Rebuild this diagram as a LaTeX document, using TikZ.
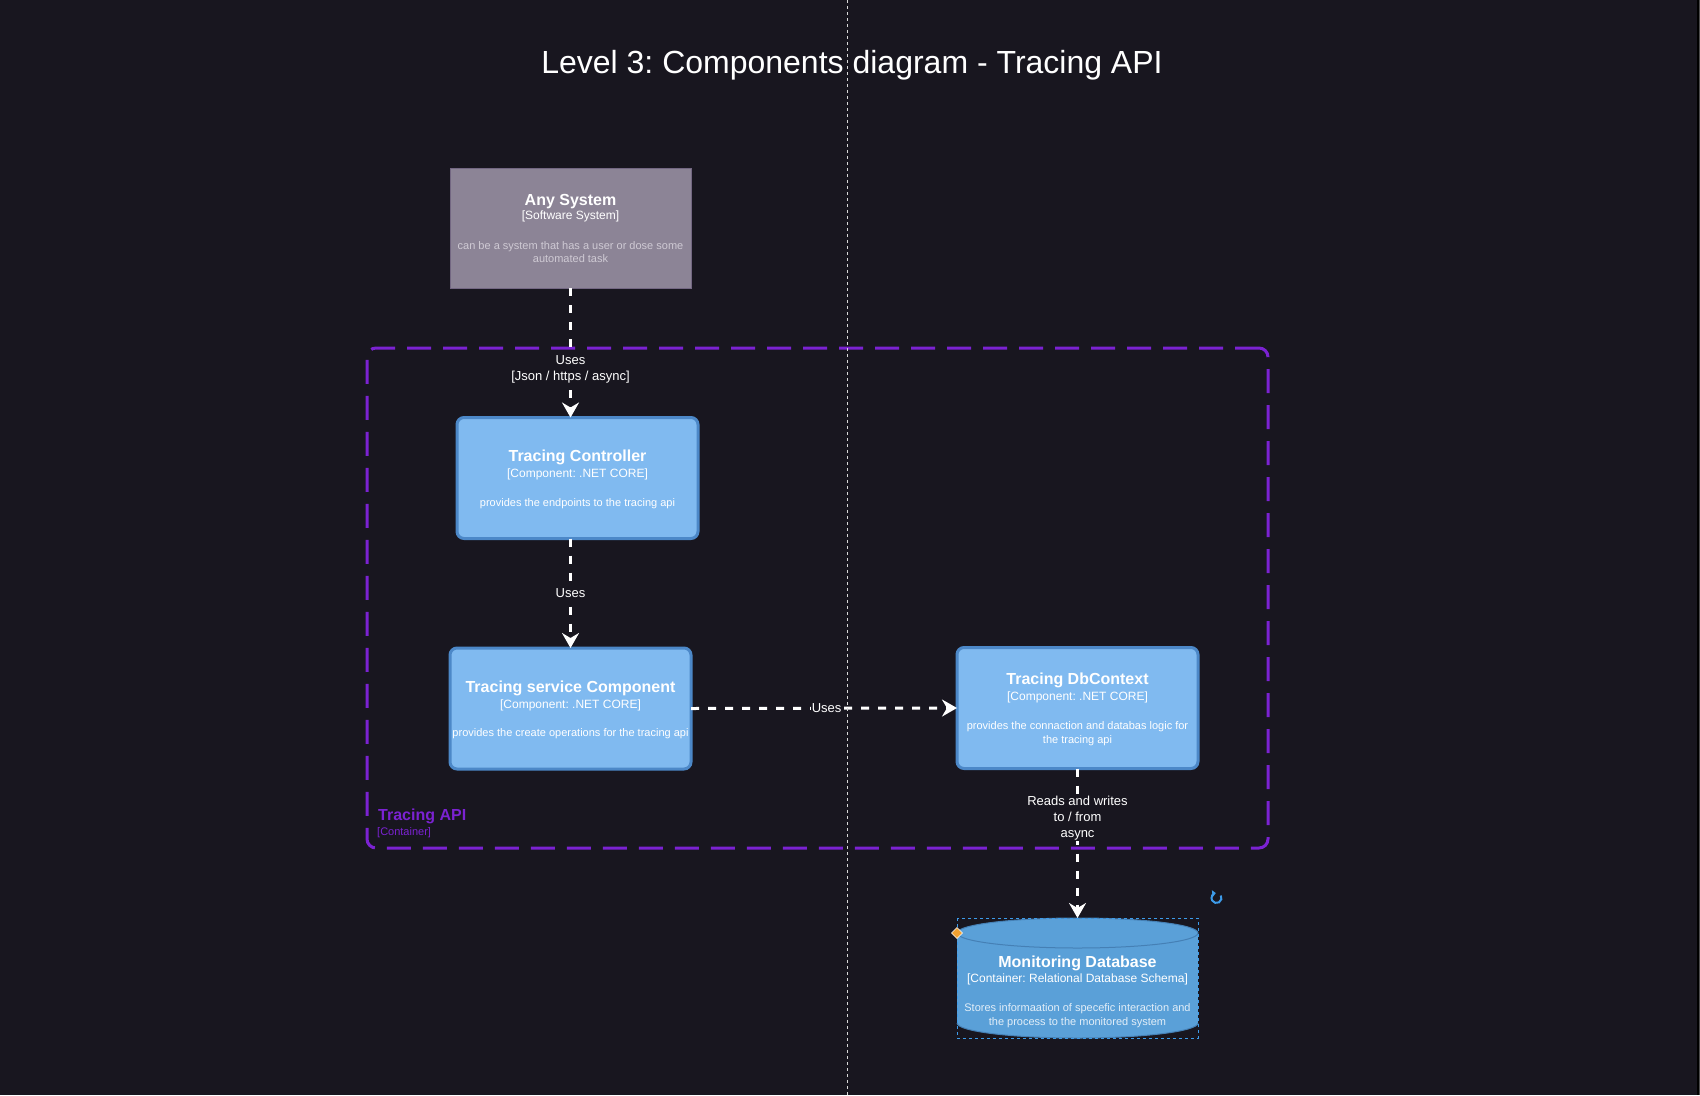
\documentclass[tikz,border=0pt]{standalone}
\usepackage{fontspec}
\setmainfont{Liberation Sans}
\usetikzlibrary{arrows.meta}
\definecolor{bg}{HTML}{18161F}
\definecolor{extfill}{HTML}{8C8496}
\definecolor{extstroke}{HTML}{736782}
\definecolor{extdesc}{HTML}{CFCAD4}
\definecolor{compfill}{HTML}{80BAF0}
\definecolor{compstroke}{HTML}{4C88C8}
\definecolor{dbfill}{HTML}{5AA0D8}
\definecolor{dbstroke}{HTML}{4580B5}
\definecolor{dbdesc}{HTML}{E2EEF8}
\definecolor{bound}{HTML}{7B22D2}
\definecolor{selblue}{HTML}{3D9BE9}
\definecolor{handle}{HTML}{F0A030}
\frenchspacing
\begin{document}
\begin{tikzpicture}[x=1pt,y=-1pt,
  box/.style={rectangle,minimum width=241pt,minimum height=121pt,outer sep=0pt,inner sep=0pt},
  extbox/.style={box,fill=extfill,draw=extstroke,line width=1pt},
  compbox/.style={box,fill=compfill,draw=compstroke,line width=3pt,rounded corners=7pt},
  ttl/.style={anchor=base,text=white,font=\fontsize{16}{19}\selectfont\bfseries,inner sep=0pt},
  sub/.style={anchor=base,text=white,font=\fontsize{12}{14}\selectfont,inner sep=0pt},
  dsc/.style={anchor=base,text=white,font=\fontsize{11}{13}\selectfont,inner sep=0pt},
  rel/.style={draw=white,line width=3pt,dash pattern=on 8pt off 9pt,-{Stealth[length=15pt,width=17pt,inset=5pt]}},
  rellabel/.style={fill=bg,text=white,font=\fontsize{13}{16}\selectfont,inner sep=1pt,align=center},
]
% background
\fill[bg] (0,0) rectangle (1700,1095);
\useasboundingbox (0,0) rectangle (1700,1095);
\fill[black] (1697,0) rectangle (1699,1095);
\fill[black!70!white] (1699,0) rectangle (1700,1095);

% title
\node[anchor=base,text=white,font=\fontsize{32}{38}\selectfont,inner sep=0pt] (title) at (852,73) {Level 3: Components diagram - Tracing API};

% container boundary
\node[rectangle,draw=bound,line width=3pt,dash pattern=on 24pt off 12pt,rounded corners=9pt,minimum width=901pt,minimum height=500pt,inner sep=0pt] (boundary) at (817.5,598) {};
\node[anchor=base west,text=bound,font=\fontsize{16}{19}\selectfont\bfseries,inner sep=0pt] (bname) at (378,820) {Tracing API};
\node[anchor=base west,text=bound,font=\fontsize{11}{13}\selectfont,inner sep=0pt] (btype) at (377,835) {[Container]};

% Any System
\node[extbox,minimum height=120pt] (anysys) at (570.5,228) {};
\node[ttl] (anysysT) at (570.5,205) {Any System};
\node[sub] (anysysS) at (570.5,219) {[Software System]};
\node[dsc,text=extdesc] (anysysD1) at (570.5,249) {can be a system that has a user or dose some};
\node[dsc,text=extdesc] (anysysD2) at (570.5,262) {automated task};

% Tracing Controller
\node[compbox] (ctrl) at (577.5,478) {};
\node[ttl] (ctrlT) at (577.5,461.5) {Tracing Controller};
\node[sub] (ctrlS) at (577.5,477.5) {[Component: .NET CORE]};
\node[dsc] (ctrlD) at (577.5,506) {provides the endpoints to the tracing api};

% Tracing service Component
\node[compbox] (svc) at (570.5,708.5) {};
\node[ttl] (svcT) at (570.5,692) {Tracing service Component};
\node[sub] (svcS) at (570.5,708) {[Component: .NET CORE]};
\node[dsc] (svcD) at (570.5,736) {provides the create operations for the tracing api};

% Tracing DbContext
\node[compbox] (dbctx) at (1077.5,708) {};
\node[ttl] (dbctxT) at (1077.5,684.5) {Tracing DbContext};
\node[sub] (dbctxS) at (1077.5,700) {[Component: .NET CORE]};
\node[dsc] (dbctxD1) at (1077.5,729) {provides the connaction and databas logic for};
\node[dsc] (dbctxD2) at (1077.5,743) {the tracing api};

% Monitoring Database (cylinder)
\node[box,minimum height=120pt] (db) at (1077.5,978) {};
\fill[dbfill] (957,933) rectangle (1198,1023);
\fill[dbfill] (1077.5,1023) ellipse[x radius=120.5,y radius=15];
\fill[dbfill] (1077.5,933) ellipse[x radius=120.5,y radius=15];
\draw[dbstroke,line width=1pt] (1077.5,933) ellipse[x radius=120.5,y radius=15];
\draw[dbstroke,line width=1pt] (957,1023) arc[start angle=180,end angle=0,x radius=120.5,y radius=15];
\node[ttl] (dbT) at (1077.5,967) {Monitoring Database};
\node[sub] (dbS) at (1077.5,982.5) {[Container: Relational Database Schema]};
\node[dsc,text=dbdesc] (dbD1) at (1077.5,1011.5) {Stores informaation of specefic interaction and};
\node[dsc,text=dbdesc] (dbD2) at (1077.5,1025.5) {the process to the monitored system};
% selection frame and handles
\draw[selblue,line width=0.8pt,dash pattern=on 3pt off 3pt] (db.north west) rectangle (db.south east);
\fill[handle,draw=white,line width=0.5pt] (957,927.5) -- (962.5,933) -- (957,938.5) -- (951.5,933) -- cycle;
\coordinate (refresh) at (1216.5,898);
\draw[selblue,line width=2pt,-{Triangle[length=3.5pt,width=6.5pt]}] ([shift={(-30:5)}]refresh) arc[start angle=-30,end angle=262,radius=5];

% relationships
\draw[rel] (anysys.south) -- (anysys.south |- ctrl.north)
  node[rellabel,pos=0.63] (r1) {Uses\\{}[Json / https / async]};
\draw[rel] (svc.north |- ctrl.south) -- (svc.north)
  node[rellabel,pos=0.5] (r2) {Uses};
\draw[rel] (svc.east) -- (dbctx.west)
  node[rellabel,pos=0.51] (r3) {Uses};
\draw[rel] (dbctx.south) -- (db.north)
  node[rellabel,pos=0.33] (r4) {Reads and writes\\to / from\\async};

% guide line
\coordinate (gtop) at (847.5,0);
\coordinate (gbot) at (847.5,1095);
\draw[white!85!black,line width=0.8pt,dash pattern=on 3pt off 3pt] (gtop) -- (gbot);
\end{tikzpicture}
\end{document}
